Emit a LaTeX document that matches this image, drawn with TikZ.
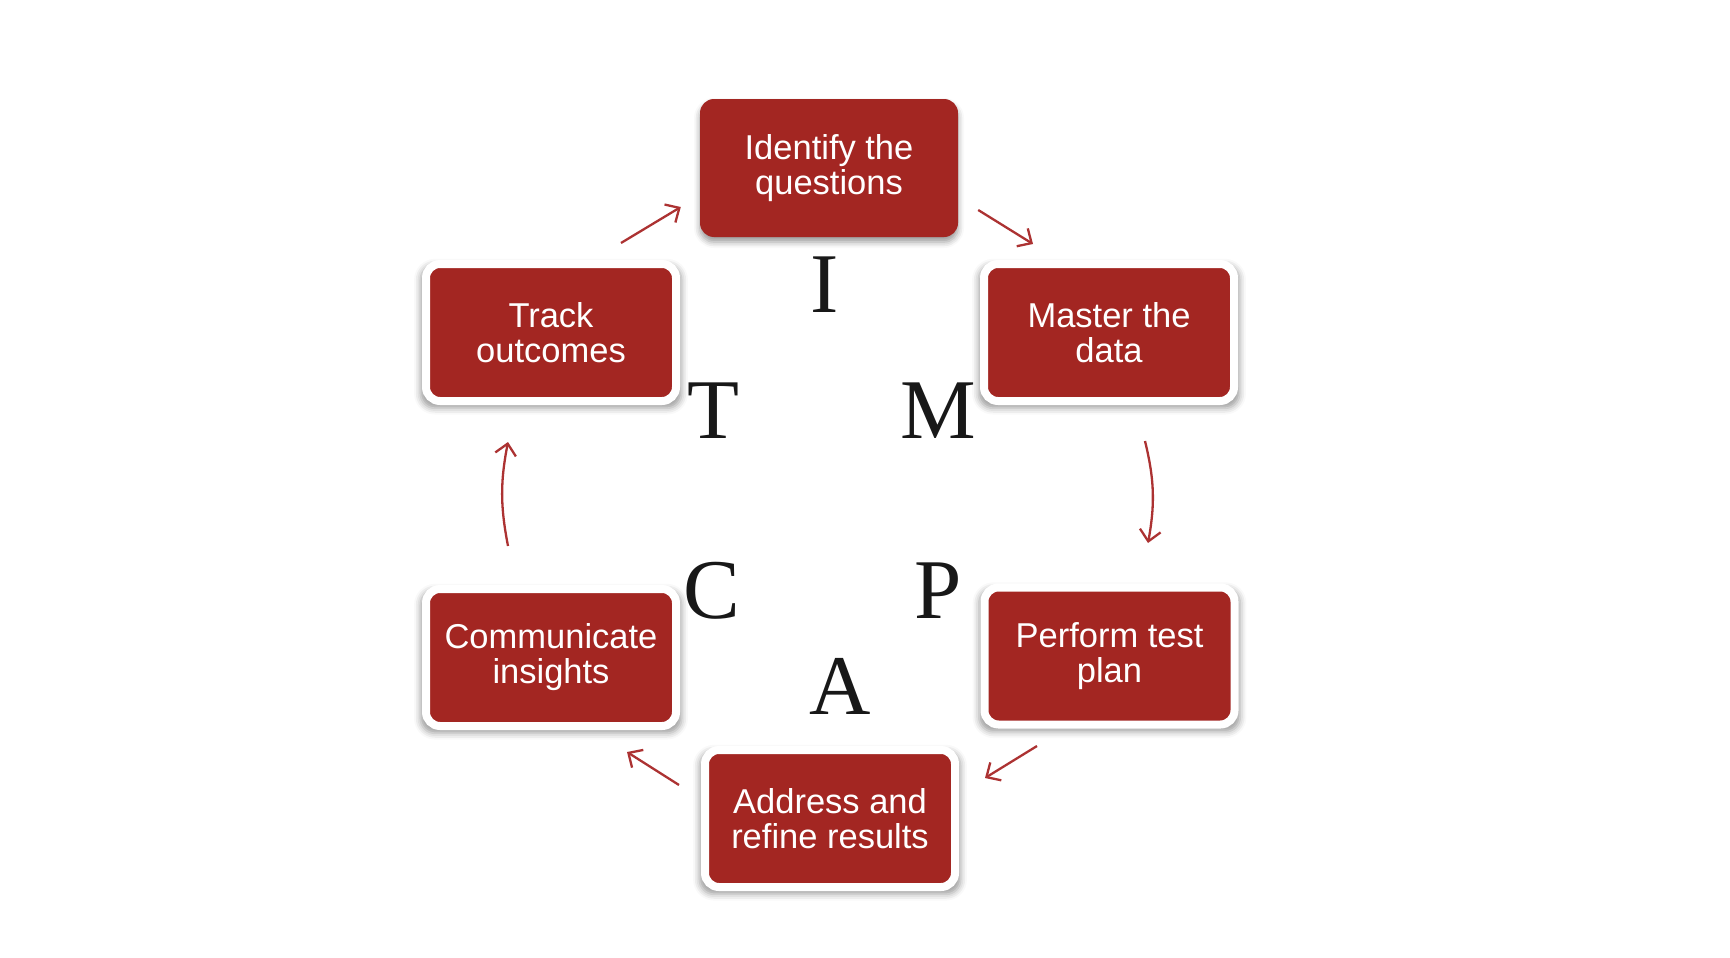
\documentclass[tikz,border=0pt]{standalone}
\usepackage{fontspec}
\setmainfont{Liberation Sans}
\newfontfamily\letterfont{Liberation Serif}
\usetikzlibrary{arrows.meta,shadows.blur}
\definecolor{boxred}{RGB}{163,38,34}
\definecolor{arrowred}{RGB}{172,50,50}
\definecolor{letterink}{RGB}{24,24,24}
\tikzset{
  stepnode/.style={fill=boxred, rounded corners=14pt, text=white, align=center,
    font=\fontsize{34.5}{35}\selectfont, inner sep=0pt},
  topbox/.style={stepnode, minimum width=258pt, minimum height=138pt,
    blur shadow={shadow xshift=0pt, shadow yshift=-5pt, shadow blur radius=6pt, shadow opacity=40}},
  framedbox/.style={stepnode, draw=white, line width=8pt, minimum width=250pt, minimum height=137pt,
    blur shadow={shadow xshift=0pt, shadow yshift=-4pt, shadow scale=1.045,
      shadow blur radius=6pt, shadow opacity=38}},
  initial/.style={font=\letterfont\fontsize{85}{85}\selectfont, text=letterink, inner sep=0pt},
  flow/.style={draw=arrowred, line width=2.3pt, -{Straight Barb[length=11pt,width=21pt]}},
}
\begin{document}
\begin{tikzpicture}[x=1pt,y=1pt]
  \useasboundingbox (0,0) rectangle (1730,-958);

  % the six steps of the cycle
  \node[topbox]    (ident)  at (829,-168)    {Identify the\\questions};
  \node[framedbox] (master) at (1109,-332.5) {Master the\\data};
  \node[framedbox] (perform) at (1109.5,-656) {Perform test\\plan};
  \node[framedbox] (address) at (830,-818.5) {Address and\\refine results};
  \node[framedbox] (comm)   at (551,-657.5)  {Communicate\\insights};
  \node[framedbox] (track)  at (551,-332.5)  {Track\\outcomes};

  % initials of the steps
  \node[initial] (li) at (825,-285) {I};
  \node[initial] (lm) at (938,-411) {M};
  \node[initial] (lp) at (938,-591) {P};
  \node[initial] (la) at (840,-686) {A};
  \node[initial] (lc) at (712,-591) {C};
  \node[initial] (lt) at (713,-411) {T};

  % arrows running clockwise between the steps
  \draw[flow] ([shift={(20,-42)}]ident.east) -- ([shift={(-76,16)}]master.north);
  \draw[flow] ([shift={(36,-36)}]master.south) to[bend left=12] ([shift={(38.5,40.5)}]perform.north);
  \draw[flow] ([shift={(-72.5,-17.5)}]perform.south) -- ([shift={(26,40.5)}]address.east);
  \draw[flow] ([shift={(-22,33.5)}]address.west) -- ([shift={(76,-22)}]comm.south);
  \draw[flow] ([shift={(-43,39)}]comm.north) to[bend left=11] ([shift={(-43,-37)}]track.south);
  \draw[flow] ([shift={(70,17)}]track.north) -- ([shift={(-19,-39)}]ident.west);
\end{tikzpicture}
\end{document}
